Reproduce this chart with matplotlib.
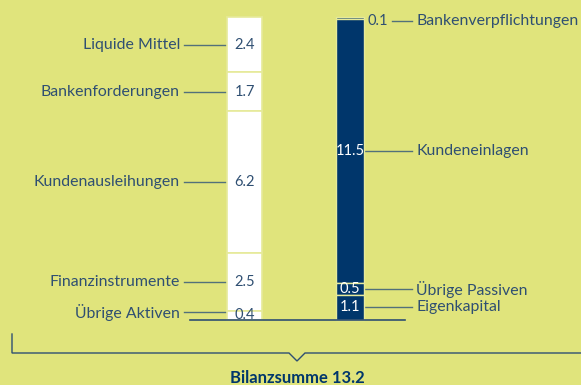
import matplotlib
matplotlib.use("Agg")
import matplotlib.pyplot as plt
import numpy as np

# Balance sheet (CHF bn)
asset_names = ["Liquide Mittel", "Bankenforderungen", "Kundenausleihungen",
               "Finanzinstrumente", "Übrige Aktiven"]
asset_vals = [2.4, 1.7, 6.2, 2.5, 0.4]
liab_names = ["Bankenverpflichtungen", "Kundeneinlagen", "Übrige Passiven",
              "Eigenkapital"]
liab_vals = [0.1, 11.5, 0.5, 1.1]
total = 13.2
total_label = "Bilanzsumme 13.2"

BG = "#e0e47c"
NAVY = "#00366b"
TEXT = "#2f4f72"
LEAD = "#52707a"
SEP = "#e6ea9a"

plt.rcParams["font.family"] = ["Lato", "DejaVu Sans"]

fig = plt.figure(figsize=(5.81, 3.85), dpi=100, facecolor=BG)
ax = fig.add_axes([0, 0, 1, 1])
ax.set_facecolor(BG)
ax.axis("off")

# x axis in pixel-like units, y axis in value units
scale = 22.95          # pixels per unit
base_px = 320          # baseline position from top
ax.set_xlim(0, 581)
ax.set_ylim(-(385 - base_px) / scale, base_px / scale)


def yv(p):
    """Convert a vertical offset from the top edge into value units."""
    return (base_px - p) / scale


left_x, left_w = 244.5, 35
right_x, right_w = 350, 28

# Stacks are drawn from the top down
a_bottoms = total - np.cumsum(asset_vals)
l_bottoms = total - np.cumsum(liab_vals)

ax.bar(left_x, asset_vals, bottom=a_bottoms, width=left_w, color="white",
       edgecolor=SEP, linewidth=1.2, zorder=2)
ax.bar(right_x, liab_vals, bottom=l_bottoms, width=right_w, color=NAVY,
       edgecolor=SEP, linewidth=1.0, zorder=2)

fs = 11.4
vfs = 10.5
nudge = 3 / scale   # small shift for labels on very thin segments

# Asset labels (left)
for name, v, b in zip(asset_names, asset_vals, a_bottoms):
    mid = b + v / 2
    ax.text(left_x, mid, f"{v:.1f}", ha="center", va="center", color=TEXT,
            fontsize=vfs, zorder=3)
    ly = mid + nudge if v < 0.5 else mid
    ax.plot([184, left_x - left_w / 2], [ly, ly], color=LEAD, lw=1.0,
            zorder=1)
    ax.text(180, ly, name, ha="right", va="center", color=TEXT, fontsize=fs)

# Liability labels (right)
for name, v, b in zip(liab_names, liab_vals, l_bottoms):
    mid = b + v / 2
    if v < 0.3:
        ly = mid - nudge
        ax.text(368, ly, f"{v:.1f}", ha="left", va="center", color=TEXT,
                fontsize=vfs)
        ax.plot([392, 412], [ly, ly], color=LEAD, lw=1.0)
    else:
        ly = mid
        ax.text(right_x, mid, f"{v:.1f}", ha="center", va="center",
                color="white", fontsize=vfs, zorder=3)
        ax.plot([right_x + right_w / 2, 412], [ly, ly], color=LEAD, lw=1.0,
                zorder=1)
    ax.text(416, ly, name, ha="left", va="center", color=TEXT, fontsize=fs)

# Baseline
ax.plot([190, 405], [0, 0], color=TEXT, lw=1.2, zorder=4)

# Bracket with notch
bx = [12, 12, 289, 297, 305, 581]
by = [yv(334), yv(353), yv(353), yv(361), yv(353), yv(353)]
ax.plot(bx, by, color=TEXT, lw=1.0, solid_joinstyle="miter")

ax.text(297, yv(370), total_label, ha="center", va="top", color=NAVY,
        fontsize=12, fontweight="bold")

fig.savefig("out.png", dpi=100, facecolor=BG)
